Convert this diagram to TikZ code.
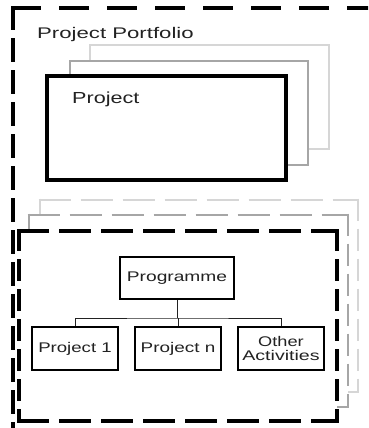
\documentclass[tikz,border=0pt]{standalone}
\usepackage{fontspec}
\setmainfont{Liberation Sans}
\definecolor{txt}{HTML}{222222}
\definecolor{lgray}{HTML}{D6D6D6}
\definecolor{mgray}{HTML}{A6A6A6}
\tikzset{
  outerh/.style={line width=3.2pt, dash pattern=on 30pt off 18pt},
  outerv/.style={line width=3.2pt, dash pattern=on 24pt off 8pt},
  lowh/.style={line width=3.2pt, dash pattern=on 32pt off 10pt},
  lowv/.style={line width=3.2pt, dash pattern=on 22pt off 8pt},
  frontbox/.style={draw=black, line width=3.2pt, fill=white},
  backbox/.style={line width=2.6pt, fill=white},
  smallbox/.style={draw=black, line width=1.6pt, fill=white, inner sep=0pt,
    font=\fontsize{14}{14.5}\selectfont, text=txt, align=center},
  biglabel/.style={anchor=base west, inner sep=0pt, text=txt},
  conn/.style={draw=txt, line width=1pt}
}
\newcommand\sx[2]{\scalebox{#1}[1]{#2}}
\begin{document}
\begin{tikzpicture}[x=1pt,y=-1pt]
\useasboundingbox (0,0) rectangle (368,428);
\begin{scope}
\clip (0,0) rectangle (368,428);
% outer portfolio frame
\draw[outerh] (11.4,8) -- (385,8);
\draw[outerv] (13,6.4) -- (13,440);

% upper stack of project boxes
\filldraw[backbox, draw=lgray] (90,45) rectangle (329,149);
\filldraw[backbox, draw=mgray] (70,61) rectangle (308,165);
\filldraw[frontbox] (47,76) rectangle (286,180);

% lower stack of dashed programme frames
\fill[white] (40,200) rectangle (359,392);
\draw[lowh, lgray, line width=2.6pt] (38.7,200) -- (359.3,200);
\draw[lowh, lgray, line width=2.6pt] (38.7,392) -- (359.3,392);
\draw[lowv, lgray, line width=2.6pt] (40,198.7) -- (40,393.3);
\draw[lowv, lgray, line width=2.6pt] (358,198.7) -- (358,393.3);

\fill[white] (29,215) rectangle (348,407);
\draw[lowh, mgray, line width=2.6pt] (27.7,215) -- (349.3,215);
\draw[lowh, mgray, line width=2.6pt] (27.7,407) -- (349.3,407);
\draw[lowv, mgray, line width=2.6pt] (29,213.7) -- (29,408.3);
\draw[lowv, mgray, line width=2.6pt] (348,213.7) -- (348,408.3);

\fill[white] (19,231) rectangle (337,421);
\draw[lowh] (17.4,231) -- (338.6,231);
\draw[lowh] (17.4,421) -- (338.6,421);
\draw[lowv] (19,229.4) -- (19,422.6);
\draw[lowv] (337,229.4) -- (337,422.6);
\end{scope}

% labels
\node[biglabel, font=\fontsize{15.4}{16}\selectfont] (portfolio) at (37,38) {\sx{1.44}{Project Portfolio}};
\node[biglabel, font=\fontsize{16}{17}\selectfont] (project) at (72,103) {\sx{1.35}{Project}};

% programme hierarchy
\node[smallbox, minimum width=114pt, minimum height=42pt] (prog) at (177,278) {\sx{1.37}{Programme}};
\node[smallbox, minimum width=86pt, minimum height=43pt] (p1) at (75,348.5) {\sx{1.33}{Project 1}};
\node[smallbox, minimum width=86pt, minimum height=43pt] (pn) at (178,348.5) {\sx{1.35}{Project n}};
\node[smallbox, minimum width=86pt, minimum height=43pt] (oth) at (281,348.5) {\sx{1.3}{Other}\\\sx{1.4}{Activities}};

\coordinate (bus) at (177,318);
\draw[conn] (prog.south) -- (bus);
\draw[conn] (p1.north) |- (bus) -| (oth.north);
\draw[conn] (pn.north) -- (pn.north |- bus);
\end{tikzpicture}
\end{document}
